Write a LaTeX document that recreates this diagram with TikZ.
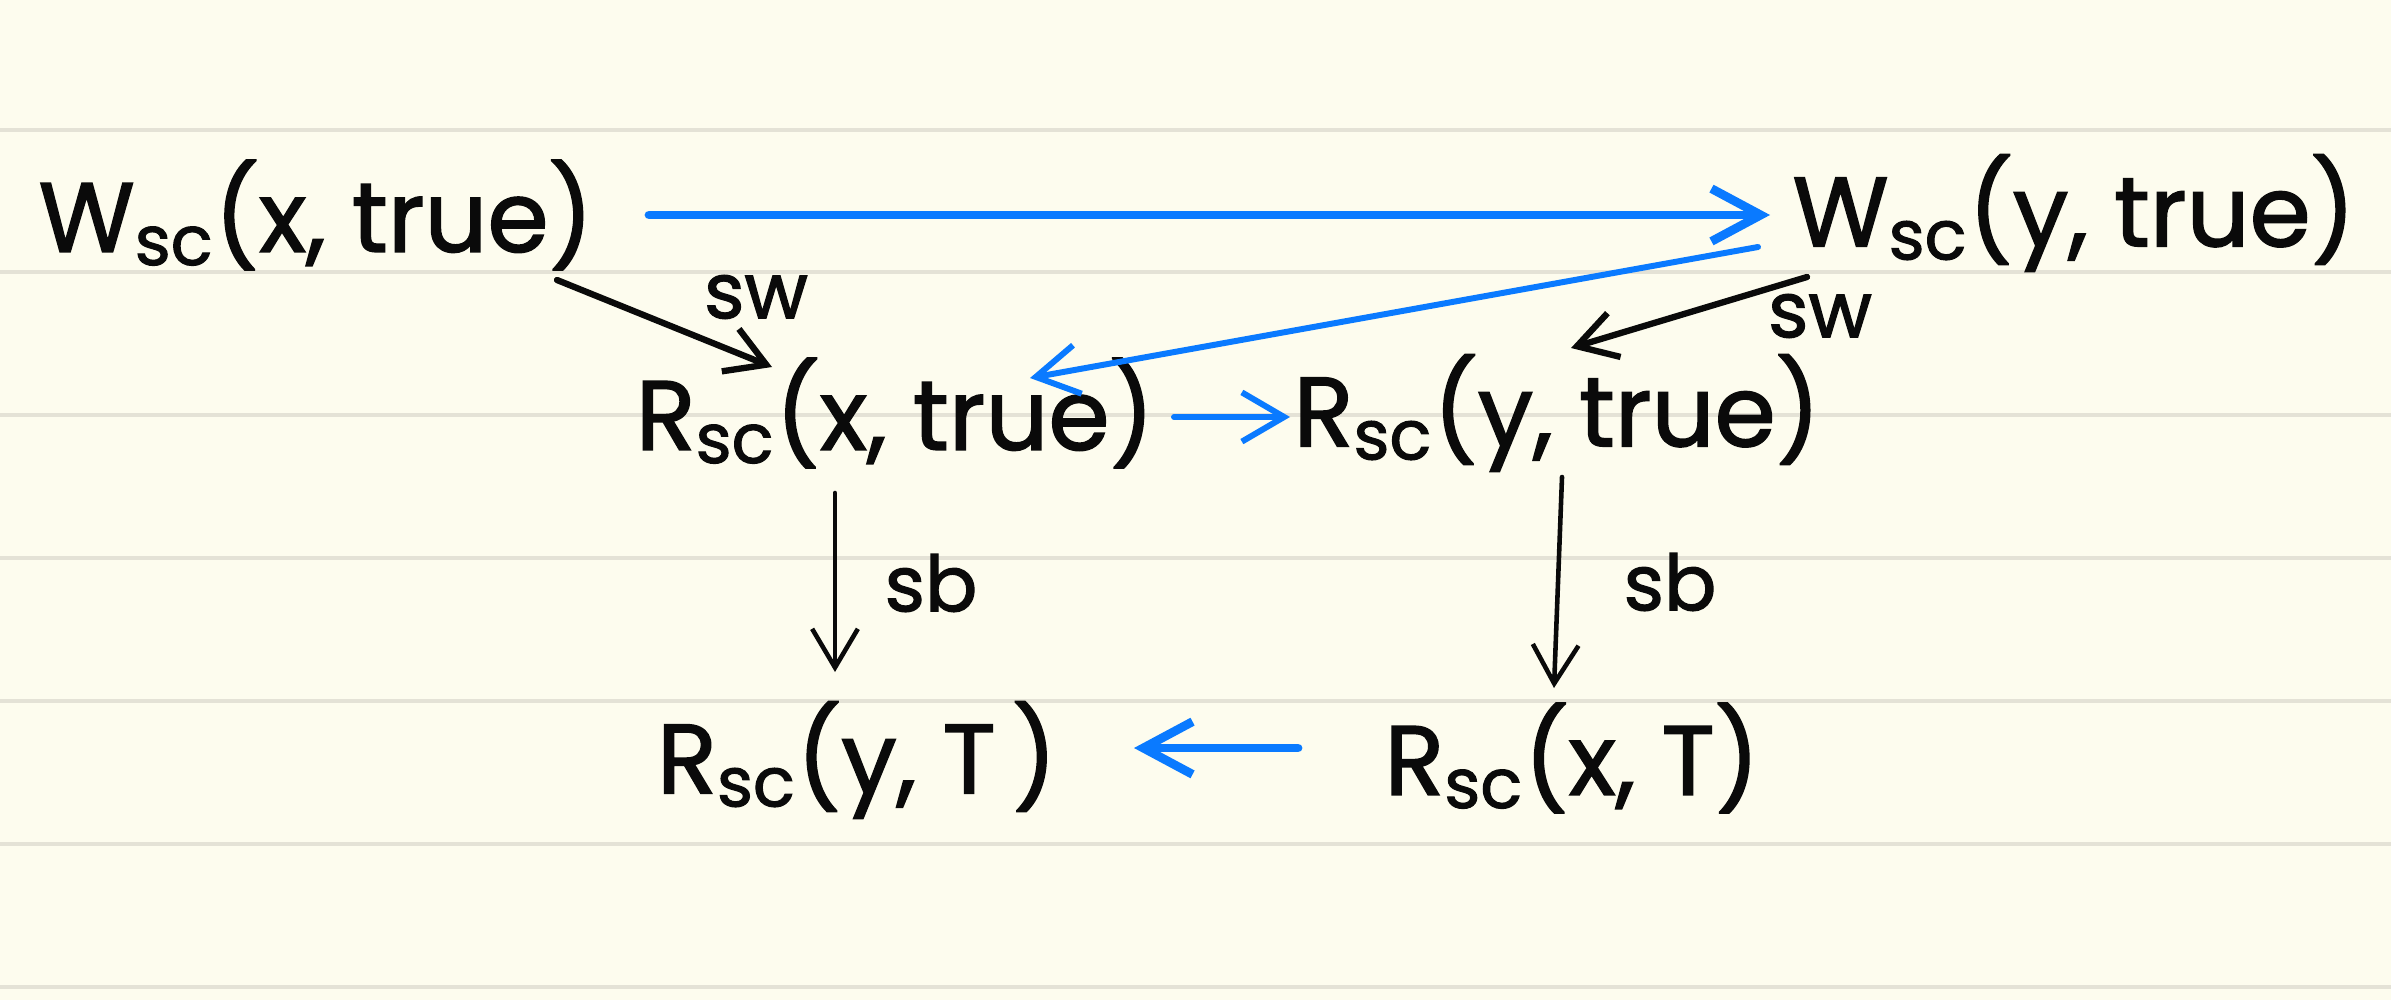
\documentclass[tikz,border=0pt]{standalone}
\usepackage{fontspec}
\setmainfont{Poppins}[FakeBold=1.6]
\usetikzlibrary{arrows.meta}
\definecolor{paper}{HTML}{FDFCEE}
\definecolor{ruling}{HTML}{E4E2D6}
\definecolor{ink}{HTML}{0A0A0A}
\definecolor{iosblue}{HTML}{0A7AFF}
\begin{document}
\begin{tikzpicture}[x=0.01cm,y=-0.01cm,
  term/.style={font=\fontsize{28}{32}\selectfont, inner sep=0pt, text=ink},
  rel/.style={font=\fontsize{22}{26}\selectfont, inner sep=0pt, text=ink},
  blk/.style={draw=ink, line width=1.8pt, line cap=round,
    -{Straight Barb[length=11pt,width=13pt]}},
  blkthin/.style={draw=ink, line width=1.3pt, line cap=round,
    -{Straight Barb[length=11pt,width=13pt]}},
  blu/.style={draw=iosblue, line width=1.7pt, line cap=round,
    -{Straight Barb[length=12pt,width=14pt]}},
  blubig/.style={draw=iosblue, line width=2.5pt, line cap=round,
    -{Straight Barb[length=14pt,width=15pt]}}]
\useasboundingbox (0,0) rectangle (2391,1000);
\fill[paper] (0,0) rectangle (2391,1000);
\foreach \yy in {130,272,415,558,701,844,987}
  \draw[ruling, line width=1.2pt] (0,\yy) -- (2391,\yy);
% terms
\node[term] (Wx) at (316,215) {W\textsubscript{sc}(x, true)};
\node[term] (Wy) at (2074,213) {W\textsubscript{sc}(y, true)};
\node[term] (Rx) at (895,413) {R\textsubscript{sc}(x, true)};
\node[term] (Ry) at (1557,413) {R\textsubscript{sc}(y, true)};
\node[term] (RyT) at (857,760) {R\textsubscript{sc}(y, T\,)};
\node[term] (RxT) at (1572,758) {R\textsubscript{sc}(x, T)};
% relation labels
\node[rel] (sw1) at (756,297) {sw};
\node[rel] (sw2) at (1820,316) {sw};
\node[rel] (sb1) at (931,583) {sb};
\node[rel] (sb2) at (1670,582) {sb};
% connectors
\draw[blubig] ([shift={(333,0)}]Wx.center) -- ([shift={(-304,2)}]Wy.center);
\draw[blk] ([shift={(241,65)}]Wx.center) -- ([shift={(-123,-46)}]Rx.center);
\draw[blu] ([shift={(-316,34)}]Wy.center) -- ([shift={(135,-35)}]Rx.center);
\draw[blk] ([shift={(-267,64)}]Wy.center) -- ([shift={(14,-65)}]Ry.center);
\draw[blu] ([shift={(279,4)}]Rx.center) -- ([shift={(-267,4)}]Ry.center);
\draw[blkthin] ([shift={(-60,80)}]Rx.center) -- ([shift={(-22,-88)}]RyT.center);
\draw[blkthin] ([shift={(5,64)}]Ry.center) -- ([shift={(-18,-70)}]RxT.center);
\draw[blubig] ([shift={(-274,-10)}]RxT.center) -- ([shift={(277,-12)}]RyT.center);
\end{tikzpicture}
\end{document}
